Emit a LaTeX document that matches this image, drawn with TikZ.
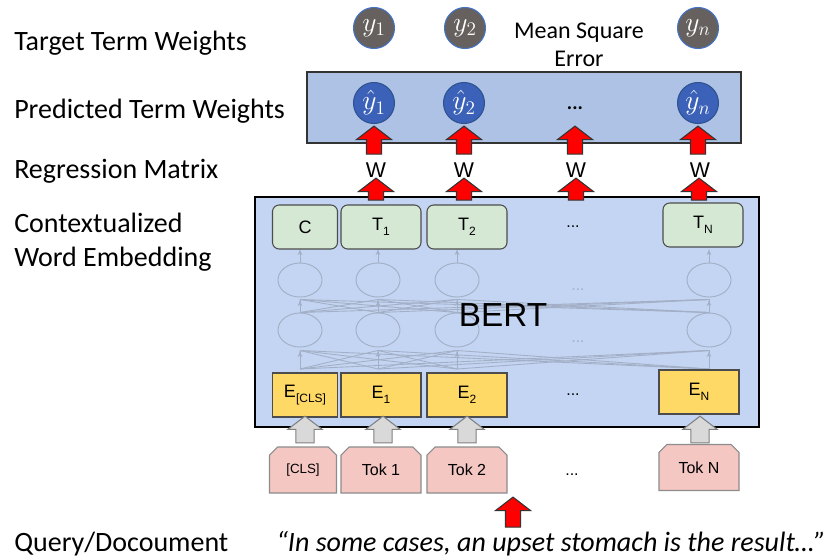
\documentclass[tikz,border=0pt]{standalone}
\usepackage{fontspec}
\setmainfont{Carlito}
\newfontfamily\arialfont{Liberation Sans}
\usepackage{tikz}
\usetikzlibrary{shapes,arrows,calc}
\usepackage{xcolor}
\definecolor{predfill}{HTML}{ADC2E5}
\definecolor{bertfill}{HTML}{C3D5F2}
\definecolor{truegray}{HTML}{66615E}
\definecolor{truerim}{HTML}{4472C4}
\definecolor{predblue}{HTML}{3B62B8}
\definecolor{predrim}{HTML}{2F528F}
\definecolor{outgreen}{HTML}{D5E8D4}
\definecolor{embyellow}{HTML}{FFD966}
\definecolor{tokpink}{HTML}{F4C7C3}
\definecolor{faintline}{HTML}{A3AFC6}
\newcommand{\subtxt}[1]{\raisebox{-0.5ex}{\fontsize{9}{9}\selectfont #1}}
\tikzstyle{sidetext} = [anchor=base west, inner sep=0pt, align=left, font=\fontsize{21}{25.5}\selectfont]
\tikzstyle{truecirc} = [circle, draw=truerim, fill=truegray, line width=0.8pt, minimum size=30.75pt, inner sep=0pt, text=white, font=\fontsize{20}{22}\selectfont]
\tikzstyle{predcirc} = [truecirc, draw=predrim, fill=predblue]
\tikzstyle{outbox} = [rectangle, draw=black!70, fill=outgreen, rounded corners=5pt, line width=0.8pt, minimum width=60pt, minimum height=33pt, inner sep=0pt, font=\arialfont\fontsize{13.5}{15}\selectfont]
\tikzstyle{embbox} = [rectangle, draw=black!70, fill=embyellow, line width=0.8pt, minimum width=60pt, minimum height=33pt, inner sep=0pt, font=\arialfont\fontsize{13.5}{15}\selectfont]
\tikzstyle{tokbox} = [chamfered rectangle, chamfered rectangle corners={north west,north east}, chamfered rectangle xsep=3pt, chamfered rectangle ysep=3pt, draw=black!45, fill=tokpink, line width=0.8pt, minimum width=60pt, minimum height=34.5pt, inner sep=0pt, font=\arialfont\fontsize{12}{14}\selectfont]
\tikzstyle{redarrow} = [single arrow, rotate=90, draw=black!80, fill=red, line width=0.8pt, minimum height=21pt, minimum width=25.5pt, single arrow head extend=7.5pt, single arrow tip angle=105, inner xsep=0pt, inner ysep=5.25pt]
\tikzstyle{grayarrow} = [redarrow, draw=black!50, fill=black!15, minimum height=20pt, minimum width=24.75pt, single arrow head extend=6pt, inner ysep=6.4pt]
\tikzstyle{neuron} = [ellipse, draw=faintline, line width=0.7pt, minimum width=33pt, minimum height=25.5pt, inner sep=0pt]
\tikzstyle{faint} = [draw=faintline, line width=0.65pt]
\tikzstyle{faintup} = [faint, -latex']
\tikzstyle{dots} = [font=\arialfont\fontsize{12}{14}\selectfont]
\tikzstyle{wtext} = [font=\arialfont\fontsize{16}{18}\selectfont]

\begin{document}
\begin{tikzpicture}[x=0.75pt, y=-0.75pt]
		\useasboundingbox (0,0) rectangle (827,558);
		% Place nodes
		\node [sidetext] (lbltarget) at (14,50) {Target Term Weights};
		\node [sidetext] (lblpred) at (14,118) {Predicted Term Weights};
		\node [sidetext] (lblreg) at (14,178) {Regression Matrix};
		\node [sidetext] (lblctx) at (14,266) {Contextualized\\Word Embedding};
		\node [sidetext] (lblquery) at (14,551) {Query/Docoument};
		
		\node [truecirc] (y1) at (374,28) {$y_1$};
		\node [truecirc, right of=y1, node distance=68.25pt] (y2) {$y_2$};
		\node [truecirc, right of=y2, node distance=174.75pt] (yn) {$y_n$};
		\node [align=center, font=\fontsize{18}{21}\selectfont] (mse) at (579,45) {Mean Square\\Error};
		
		\node [draw=black!80, line width=1pt, fill=predfill, minimum width=325.5pt, minimum height=53.25pt] (predbox) at (524,107.5) {};
		\node [predcirc] (yh1) at (374,103) {$\hat{y}_1$};
		\node [predcirc, right of=yh1, node distance=67.5pt] (yh2) {$\hat{y}_2$};
		\node [font=\bfseries\fontsize{15}{17}\selectfont] (yhdots) at (575,108) {...};
		\node [predcirc, right of=yh2, node distance=175.5pt] (yhn) {$\hat{y}_n$};
		
		\node [redarrow] (up1) at (374,143) {};
		\node [redarrow] (up2) at (464,143) {};
		\node [redarrow] (up3) at (575,143) {};
		\node [redarrow] (upn) at (698,143) {};
		\node [wtext] (w1) at (376,170) {W};
		\node [wtext] (w2) at (464,170) {W};
		\node [wtext] (w3) at (576,170) {W};
		\node [wtext] (wn) at (700,170) {W};
		
		% BERT block
		\node [draw=black, line width=2.2pt, fill=bertfill, minimum width=378pt, minimum height=172.5pt] (bertbox) at (507,312) {};
		\foreach \i/\x in {a/300,b/378,c/457,d/709} {
			\node [neuron] (n1\i) at (\x,280) {};
			\node [neuron] (n2\i) at (\x,330) {};
			\coordinate (b\i) at (\x,369);
		}
		\foreach \i in {a,b,c,d} {
			\path [faintup] (b\i) -- ($(n2\i.south)+(0,3)$);
			\path [faintup] (n2\i.north) -- ($(n1\i.south)+(0,2)$);
			\path [faintup] (n1\i.north) -- ++(0,-14);
			\foreach \j in {a,b,c,d} {
				\path [faint] (b\i) -- ($(n2\j.south)+(0,3)$);
				\path [faint] (n2\i.north) -- ($(n1\j.south)+(0,2)$);
			}
		}
		\node [dots, text=faintline] (fdots1) at (578,290) {...};
		\node [dots, text=faintline] (fdots2) at (578,342) {...};
		\node [font=\arialfont\fontsize{25}{28}\selectfont] (bert) at (503,315) {BERT};
		
		\node [outbox, minimum width=48.75pt] (cls) at (305,227) {C};
		\node [outbox, right of=cls, node distance=57pt] (t1) {T\subtxt{1}};
		\node [outbox, right of=t1, node distance=64.5pt] (t2) {T\subtxt{2}};
		\node [dots] (tdots) at (573,227) {...};
		\node [outbox, right of=t2, node distance=177pt, yshift=1.5pt] (tn) {T\subtxt{N}};
		
		\node [embbox, minimum width=48.75pt] (ecls) at (305,395) {E\subtxt{[CLS]}};
		\node [embbox, right of=ecls, node distance=57pt] (e1) {E\subtxt{1}};
		\node [embbox, right of=e1, node distance=64.5pt] (e2) {E\subtxt{2}};
		\node [dots] (edots) at (573,395) {...};
		\node [embbox, right of=e2, node distance=174pt, yshift=2.25pt] (en) {E\subtxt{N}};
		
		\node [tokbox, minimum width=50.25pt, font=\arialfont\fontsize{10}{12}\selectfont] (tcls) at (303,470) {[CLS]};
		\node [tokbox, right of=tcls, node distance=58.5pt] (tok1) {Tok 1};
		\node [tokbox, right of=tok1, node distance=64.5pt] (tok2) {Tok 2};
		\node [dots] (tokdots) at (572,475) {...};
		\node [tokbox, right of=tok2, node distance=174pt, yshift=1.9pt] (tokn) {Tok N};
		
		% Draw edges
		\node [grayarrow] (g0) at (305,433) {};
		\node [grayarrow] (g1) at (383,433) {};
		\node [grayarrow] (g2) at (467,433) {};
		\node [grayarrow] (gn) at (700,433) {};
		
		\node [redarrow, minimum height=16.5pt] (lo1) at (376,192) {};
		\node [redarrow, minimum height=16.5pt] (lo2) at (464,192) {};
		\node [redarrow, minimum height=16.5pt] (lo3) at (576,192) {};
		\node [redarrow, minimum height=16.5pt] (lon) at (699,192) {};
		
		\node [redarrow, minimum height=22.5pt] (qarrow) at (513,515) {};
		\node [anchor=base west, inner sep=0pt, font=\itshape\fontsize{21}{25}\selectfont] (quote) at (276,551) {“In some cases, an upset stomach is the result…”};
\end{tikzpicture}
\end{document}
